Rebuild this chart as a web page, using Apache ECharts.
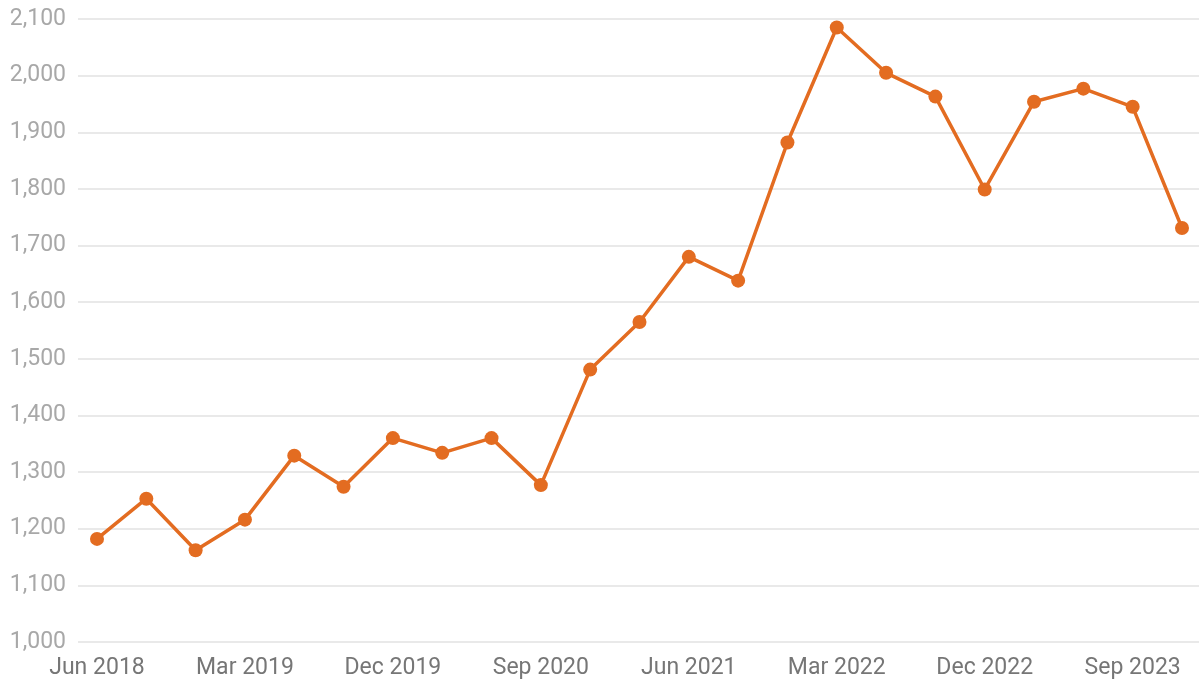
<!DOCTYPE html>
<html>
<head>
<meta charset="utf-8">
<style>
  html, body { margin: 0; padding: 0; background: #fff; }
  #main { width: 1199px; height: 683px; }
</style>
<script src="https://cdn.jsdelivr.net/npm/echarts@6/dist/echarts.min.js"></script>
</head>
<body>
<div id="main"></div>
<script>
'use strict';
// quarterly values, Jun 2018 .. Dec 2023
var quarters = [
  'Jun 2018', 'Sep 2018', 'Dec 2018',
  'Mar 2019', 'Jun 2019', 'Sep 2019',
  'Dec 2019', 'Mar 2020', 'Jun 2020',
  'Sep 2020', 'Dec 2020', 'Mar 2021',
  'Jun 2021', 'Sep 2021', 'Dec 2021',
  'Mar 2022', 'Jun 2022', 'Sep 2022',
  'Dec 2022', 'Mar 2023', 'Jun 2023',
  'Sep 2023', 'Dec 2023'
];
var values = [
  1182, 1253, 1162, 1216, 1329, 1274, 1360, 1334, 1360, 1277,
  1481, 1565, 1680, 1638, 1882, 2085, 2005, 1963, 1799, 1954,
  1977, 1945, 1731
];
var shownLabels = ['Jun 2018', 'Mar 2019', 'Dec 2019', 'Sep 2020', 'Jun 2021', 'Mar 2022', 'Dec 2022', 'Sep 2023'];

var labelIdx = shownLabels.map(function (q) { return quarters.indexOf(q); });
var points = values.map(function (v, i) { return [i, v]; });

var chart = echarts.init(document.getElementById('main'));
chart.setOption({
  animation: false,
  textStyle: { fontFamily: 'Roboto' },
  grid: { left: 78, right: 0, top: 19, bottom: 41 },
  xAxis: {
    type: 'value',
    min: -0.385,
    max: 22.345,
    splitLine: { show: false },
    axisLine: { show: false },
    axisTick: { show: false },
    axisLabel: {
      customValues: labelIdx,
      formatter: function (v) { return quarters[Math.round(v)] || ''; },
      color: '#767676',
      fontSize: 23,
      margin: 15
    }
  },
  yAxis: {
    type: 'value',
    min: 1000,
    max: 2100,
    interval: 100,
    axisLine: { show: false },
    axisTick: { show: false },
    splitLine: { lineStyle: { color: '#e2e2e2', width: 1.5 } },
    axisLabel: {
      color: '#a8a8a8',
      fontSize: 23,
      margin: 12,
      formatter: function (v) { return v.toLocaleString('en-US'); }
    }
  },
  series: [{
    type: 'line',
    data: points,
    symbol: 'circle',
    symbolSize: 14,
    lineStyle: { color: '#e36c21', width: 3.5 },
    itemStyle: { color: '#e36c21' }
  }]
});
</script>
</body>
</html>
